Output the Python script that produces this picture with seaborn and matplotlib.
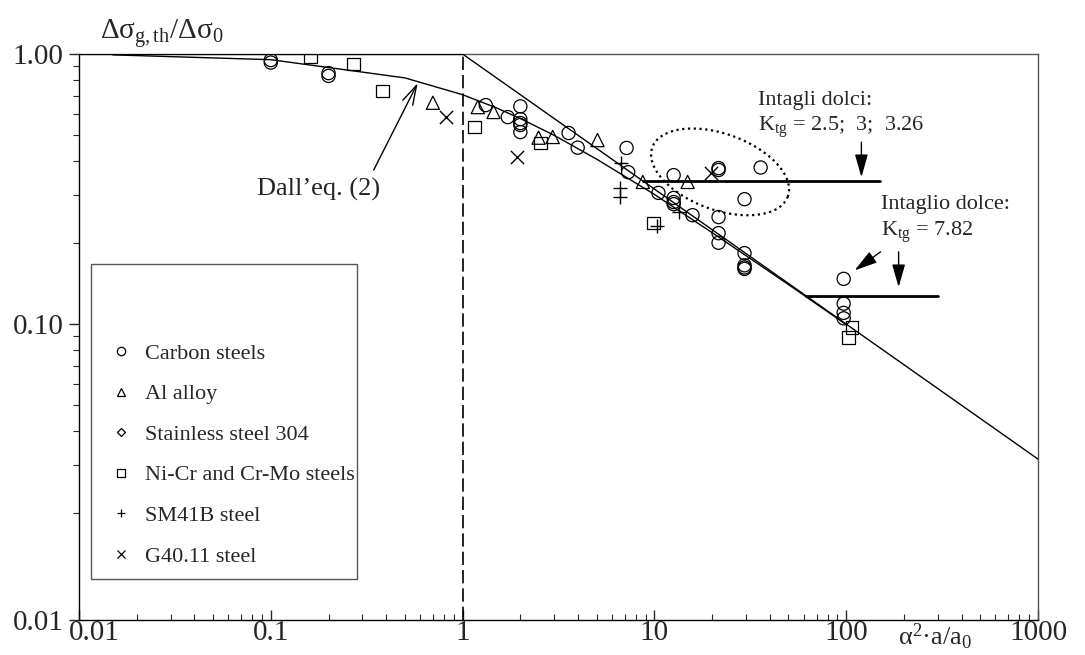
import numpy as np
import seaborn as sns
import matplotlib.pyplot as plt
from matplotlib.lines import Line2D
from matplotlib.patches import Rectangle
from matplotlib.ticker import FixedLocator
import matplotlib.transforms as mtransforms

# values (x = alpha^2 a/a0, y = dsigma_g,th / dsigma_0)
carbon_x = [0.1, 0.1, 0.2, 0.2, 1.32, 1.72, 2.0, 2.0, 2.0, 2.0, 2.0, 3.57, 3.98, 7.16, 7.3,
            10.5, 12.6, 12.6, 12.6, 12.6, 15.8, 21.6, 21.6, 21.6, 21.6, 21.6, 35.8,
            29.5, 29.5, 29.5, 29.5, 29.5, 97, 97, 97, 97]
carbon_y = [0.95, 0.93, 0.85, 0.83, 0.647, 0.584, 0.64, 0.574, 0.555, 0.546, 0.514, 0.51, 0.45,
            0.449, 0.365, 0.306, 0.356, 0.293, 0.283, 0.278, 0.253, 0.249, 0.217, 0.2, 0.378,
            0.372, 0.38, 0.29, 0.183, 0.165, 0.162, 0.16, 0.147, 0.119, 0.11, 0.105]

al_x = [0.70, 1.2, 1.45, 2.49, 2.95, 5.05, 8.7, 14.9]
al_y = [0.66, 0.636, 0.61, 0.49, 0.493, 0.48, 0.336, 0.336]

nicr_x = [0.161, 0.27, 0.383, 1.155, 2.55, 9.9, 107, 103]
nicr_y = [0.975, 0.918, 0.73, 0.537, 0.468, 0.237, 0.097, 0.089]

sm41b_x = [6.67, 6.6, 6.6, 10.3, 13.5]
sm41b_y = [0.395, 0.319, 0.295, 0.231, 0.26]

g40_x = [0.815, 1.93, 19.7]
g40_y = [0.584, 0.416, 0.362]

# Dall'eq. (2) curve
eq_x = [0.015, 0.1, 0.5, 1, 1.5, 2, 3, 5, 10, 20, 50, 100]
eq_y = [0.993, 0.953, 0.816, 0.707, 0.632, 0.577, 0.5, 0.408, 0.302, 0.218, 0.140, 0.0995]

# design lines
plateau_x = [0.01, 1]
plateau_y = [1, 1]
slope_x = [1, 1000]
slope_y = [1, 0.0316]
notch1_x = [8.7, 150]
notch1_y = [0.34, 0.34]
notch2_x = [62, 300]
notch2_y = [0.127, 0.127]

legend_labels = ['Carbon steels', 'Al alloy', 'Stainless steel 304',
                 'Ni-Cr and Cr-Mo steels', 'SM41B steel', 'G40.11 steel']

# the original's frame ends a little below 0.01, with the "0.01" label at the frame
y_bottom = 10 ** (-566 / 270)

sns.set_style('ticks')
plt.rcParams['font.family'] = ['Liberation Serif', 'DejaVu Serif']
plt.rcParams['mathtext.fontset'] = 'custom'
plt.rcParams['mathtext.rm'] = 'Liberation Serif'
plt.rcParams['mathtext.it'] = 'Liberation Serif:italic'
plt.rcParams['mathtext.bf'] = 'Liberation Serif:bold'

fig = plt.figure(figsize=(10.85, 6.55), dpi=100)
ax = fig.add_axes([0.0728, 0.0534, 0.8839, 0.8641])
ax.set_xscale('log')
ax.set_yscale('log')

# lines
ax.plot(plateau_x, plateau_y, color='black', lw=1.6, zorder=3)
ax.plot(slope_x, slope_y, color='black', lw=1.0, zorder=3)
ax.plot(eq_x, eq_y, color='black', lw=1.0, zorder=3)
ax.plot(notch1_x, notch1_y, color='black', lw=2.0, zorder=3)
ax.plot(notch2_x, notch2_y, color='black', lw=2.0, zorder=3)
ax.axvline(1, color='black', lw=1.2, ls=(0, (8, 3)), zorder=2)

# data points
ms = 90
sns.scatterplot(x=carbon_x, y=carbon_y, marker='o', s=ms, facecolor='none',
                edgecolor='black', linewidth=0.9, ax=ax, zorder=4)
sns.scatterplot(x=al_x, y=al_y, marker='^', s=ms, facecolor='none',
                edgecolor='black', linewidth=0.9, ax=ax, zorder=4)
sns.scatterplot(x=nicr_x, y=nicr_y, marker='s', s=80, facecolor='none',
                edgecolor='black', linewidth=0.9, ax=ax, zorder=4)
sns.scatterplot(x=sm41b_x, y=sm41b_y, marker='+', s=110, color='black',
                linewidth=1.0, ax=ax, zorder=4)
sns.scatterplot(x=g40_x, y=g40_y, marker='x', s=90, color='black',
                linewidth=1.0, ax=ax, zorder=4)

# dotted ellipse round the mild-notch points (reference pixel geometry)
ell_cx, ell_cy = 22.0, 0.366
ell_a, ell_b, ell_tilt = 72, 38, np.radians(20)
px_per_dec_x, px_per_dec_y = 191.5, 270.0
t = np.linspace(0, 2 * np.pi, 200)
dx = ell_a * np.cos(ell_tilt) * np.cos(t) - ell_b * np.sin(ell_tilt) * np.sin(t)
dy = ell_a * np.sin(ell_tilt) * np.cos(t) + ell_b * np.cos(ell_tilt) * np.sin(t)
ax.plot(ell_cx * 10 ** (dx / px_per_dec_x), ell_cy * 10 ** (-dy / px_per_dec_y),
        color='black', lw=1.6, ls=(0, (1, 1.6)), zorder=3)

# annotations
arrow_kw = dict(lw=1, color='black', shrinkA=0, shrinkB=0, mutation_scale=20)
ax.text(0.177, 0.314, 'Dall\u2019eq. (2)', ha='center', va='center', fontsize=19)
ax.annotate('', xy=(0.583, 0.78), xytext=(0.344, 0.372),
            arrowprops=dict(arrowstyle='->,head_length=0.7,head_width=0.2', **arrow_kw))

ax.text(34.5, 0.675, 'Intagli dolci:', ha='left', va='center', fontsize=16)
ax.text(34.5, 0.537, 'K$_{\\mathrm{tg}}$ = 2.5;  3;  3.26', ha='left', va='center', fontsize=16)
ax.annotate('', xy=(120, 0.35), xytext=(120, 0.472),
            arrowprops=dict(arrowstyle='-|>,head_length=0.7,head_width=0.2', **arrow_kw))

ax.text(151, 0.276, 'Intaglio dolce:', ha='left', va='center', fontsize=16)
ax.text(151, 0.219, 'K$_{\\mathrm{tg}}$ = 7.82', ha='left', va='center', fontsize=16)
ax.annotate('', xy=(110.6, 0.158), xytext=(151, 0.185),
            arrowprops=dict(arrowstyle='-|>,head_length=0.7,head_width=0.2', **arrow_kw))
ax.annotate('', xy=(187.6, 0.137), xytext=(187.6, 0.185),
            arrowprops=dict(arrowstyle='-|>,head_length=0.7,head_width=0.2', **arrow_kw))

# axes
ax.set_xlim(0.01, 1000)
ax.set_ylim(y_bottom, 1)
ax.set_xticks([0.01, 0.1, 1, 10, 100, 1000])
ax.set_xticklabels(['0.01', '0.1', '1', '10', '100', '1000'])
ax.set_yticks([y_bottom, 0.1, 1])
ax.set_yticklabels(['0.01', '0.10', '1.00'])
ax.yaxis.set_minor_locator(FixedLocator([k * 10.0 ** e for e in (-2, -1) for k in range(2, 10)]))
ax.xaxis.set_minor_formatter(plt.NullFormatter())
ax.yaxis.set_minor_formatter(plt.NullFormatter())
ax.tick_params(axis='x', which='both', direction='in', labelsize=21, pad=0)
ax.tick_params(axis='x', which='major', length=7, width=1)
ax.tick_params(axis='x', which='minor', length=4, width=0.8)
ax.tick_params(axis='y', which='both', direction='out', labelsize=21, pad=4)
ax.tick_params(axis='y', which='major', length=7, width=1)
ax.tick_params(axis='y', which='minor', length=4, width=0.8)
for side in ['left', 'bottom']:
    ax.spines[side].set_color('black')
    ax.spines[side].set_linewidth(1)
for side in ['top', 'right']:
    ax.spines[side].set_color('#555555')
    ax.spines[side].set_linewidth(1)

# keep the first x label clear of the bottom y label
first_lab = ax.get_xticklabels()[0]
first_lab.set_transform(first_lab.get_transform() +
                        mtransforms.ScaledTranslation(15 / 100, 0, fig.dpi_scale_trans))

ax.text(0.8926, -0.004, '\u03b1$^{\\mathrm{2}}$\u00b7a/a$_{\\mathrm{0}}$', transform=ax.transAxes,
        ha='center', va='top', fontsize=19)
fig.text(0.092, 0.9496, '\u0394\u03c3$_{\\mathrm{g,th}}$/\u0394\u03c3$_{\\mathrm{0}}$',
         ha='left', va='center', fontsize=21)

# legend
markers = ['o', '^', 'D', 's', '+', 'x']
handles = []
for m, lab in zip(markers, legend_labels):
    handles.append(Line2D([], [], ls='none', marker=m, ms=6 if m != 'D' else 4.5,
                          mfc='none', mec='black', mew=0.9, color='black', label=lab))
ax.legend(handles=handles, loc='upper left', bbox_to_anchor=(0.032, 0.489), frameon=False,
          fontsize=16, labelspacing=0.9, handlelength=1.0, handletextpad=0.6,
          borderpad=0, borderaxespad=0)
ax.add_patch(Rectangle((0.0125, 0.0724), 0.2775, 0.5565, transform=ax.transAxes,
                       fill=False, ec='#555555', lw=1, zorder=5))

fig.savefig('out.png', dpi=100)
